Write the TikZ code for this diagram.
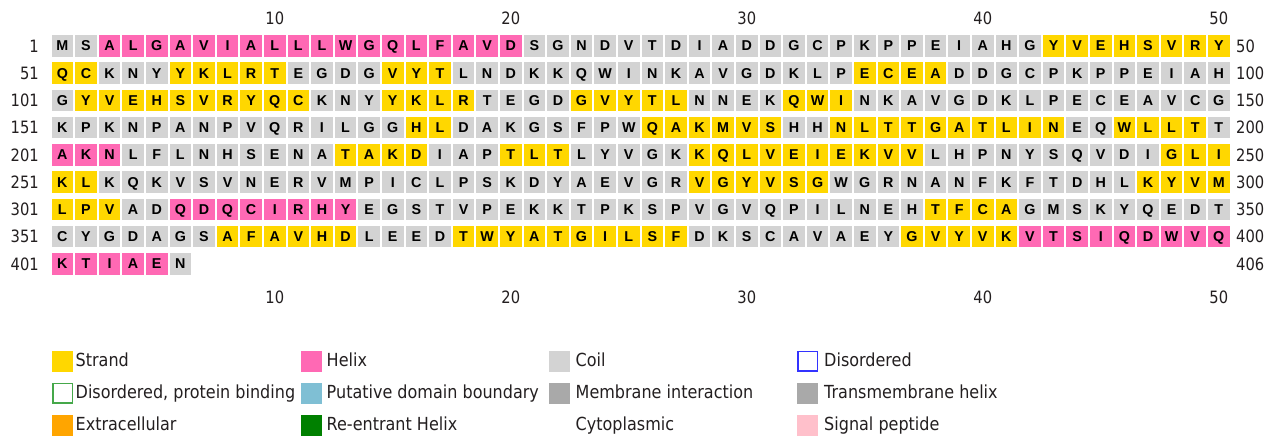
\documentclass[tikz,border=0pt]{standalone}
\usepackage{fontspec}
\setmainfont{Liberation Sans}
\newfontfamily\numfont[FakeStretch=0.865]{DejaVu Sans}
\newfontfamily\legfont[FakeStretch=0.89]{DejaVu Sans}
\definecolor{cg}{HTML}{D3D3D3}
\definecolor{cy}{HTML}{FFD700}
\definecolor{cp}{HTML}{FF69B4}
\definecolor{txt}{HTML}{231F20}
\definecolor{cblue}{HTML}{7FBFD4}
\definecolor{cdark}{HTML}{A9A9A9}
\definecolor{corange}{HTML}{FFA500}
\definecolor{cgreen}{HTML}{008000}
\definecolor{cpink}{HTML}{FFC0CB}
\definecolor{cdisblue}{HTML}{3333FF}
\definecolor{cdisgreen}{HTML}{45A84A}
\newcount\colidx
\let\wend\relax
\def\walk#1#2\wend{%
  \global\advance\colidx by 1
  \edef\cn{\the\colidx}%
  \pgfmathsetmacro\cx{62.35+(\cn-1)*23.6}%
  \pgfmathsetmacro\cy{45.85+(\rowid-1)*27.25}%
  \node[cell, fill=c\rc] (r\rowid c\cn) at (\cx,\cy) {#1};
  \ifx\relax#2\relax\else\walk#2\wend\fi}
\def\R#1#2{\global\colidx=0 \def\rowid{#1}%
  \foreach \rc/\rs in {#2}{\expandafter\walk\rs\wend}}
\tikzset{
  cell/.style={minimum width=21.7pt, minimum height=21.7pt, inner sep=0pt,
    text height=10.2pt, text depth=0pt, text=black,
    font=\fontsize{14.3}{14.3}\selectfont\bfseries},
  num/.style={inner sep=0pt, text=txt, font=\numfont\fontsize{17}{17}\selectfont},
  lbox/.style={minimum width=21pt, minimum height=21pt, inner sep=0pt, anchor=west},
  obox/.style={minimum width=19.4pt, minimum height=19.4pt, inner sep=0pt, anchor=west, fill=white, line width=1.6pt},
  ltext/.style={inner sep=0pt, anchor=base west, text=txt, font=\legfont\fontsize{18}{18}\selectfont}
}
\begin{document}
\begin{tikzpicture}[x=1pt,y=-1pt]
\useasboundingbox[fill=white] (0,0) rectangle (1273,439);
% sequence rows
\R{1}{g/MS, p/ALGAVIALLLWGQLFAVD, g/SGNDVTDIADDGCPKPPEIAHG, y/YVEHSVRY}
\R{2}{y/QC, g/KNY, y/YKLRT, g/EGDG, y/VYT, g/LNDKKQWINKAVGDKLP, y/ECEA, g/DDGCPKPPEIAH}
\R{3}{g/G, y/YVEHSVRYQC, g/KNY, y/YKLR, g/TEGD, y/GVYTL, g/NNEK, y/QWI, g/NKAVGDKLPECEAVCG}
\R{4}{g/KPKNPANPVQRILGG, y/HL, g/DAKGSFPW, y/QAKMVS, g/HH, y/NLTTGATLIN, g/EQ, y/WLLT, g/T}
\R{5}{p/AKN, g/LFLNHSENA, y/TAKD, g/IAP, y/TLT, g/LYVGK, y/KQLVEIEKVV, g/LHPNYSQVDI, y/GLI}
\R{6}{y/KL, g/KQKVSVNERVMPICLPSKDYAEVGR, y/VGYVSG, g/WGRNANFKFTDHL, y/KYVM}
\R{7}{y/LPV, g/AD, p/QDQCIRHY, g/EGSTVPEKKTPKSPVGVQPILNEH, y/TFCA, g/GMSKYQEDT}
\R{8}{g/CYGDAGS, y/AFAVHD, g/LEED, y/TWYATGILSF, g/DKSCAVAEY, y/GVYVK, p/VTSIQDWVQ}
\R{9}{p/KTIAE, g/N}
% row numbers
\foreach \r/\a/\b in {1/1/50, 2/51/100, 3/101/150, 4/151/200, 5/201/250, 6/251/300, 7/301/350, 8/351/400, 9/401/406}{
  \pgfmathsetmacro\cy{45.85+(\r-1)*27.25}
  \node[num, anchor=east] (left\r) at (39,\cy) {\a};
  \node[num, anchor=west] (right\r) at (1236,\cy) {\b};
}
% column numbers
\foreach \c in {10,20,30,40,50}{
  \pgfmathsetmacro\cx{62.35+(\c-1)*23.6}
  \node[num] (top\c) at (\cx,18.3) {\c};
  \node[num] (bot\c) at (\cx,297) {\c};
}
% legend
\node[lbox, fill=cy] (k1) at (51.7,361) {};
\node[ltext] (t1) at (75.5,366) {Strand};
\node[lbox, fill=cp] (k2) at (300.8,361) {};
\node[ltext] (t2) at (326.5,366) {Helix};
\node[lbox, fill=cg] (k3) at (549,361) {};
\node[ltext] (t3) at (575.5,366) {Coil};
\node[obox, draw=cdisblue] (k4) at (797.3,361) {};
\node[ltext] (t4) at (824,366) {Disordered};
\node[obox, draw=cdisgreen] (k5) at (52.4,393) {};
\node[ltext] (t5) at (75.5,398) {Disordered, protein binding};
\node[lbox, fill=cblue] (k6) at (300.8,393) {};
\node[ltext] (t6) at (326.5,398) {Putative domain boundary};
\node[lbox, fill=cdark] (k7) at (549,393) {};
\node[ltext] (t7) at (575.5,398) {Membrane interaction};
\node[lbox, fill=cdark] (k8) at (796.5,393) {};
\node[ltext] (t8) at (824,398) {Transmembrane helix};
\node[lbox, fill=corange] (k9) at (51.7,425) {};
\node[ltext] (t9) at (75.5,430) {Extracellular};
\node[lbox, fill=cgreen] (k10) at (300.8,425) {};
\node[ltext] (t10) at (326.5,430) {Re-entrant Helix};
\node[ltext] (t11) at (575.5,430) {Cytoplasmic};
\node[lbox, fill=cpink] (k12) at (796.5,425) {};
\node[ltext] (t12) at (824,430) {Signal peptide};
\end{tikzpicture}
\end{document}
